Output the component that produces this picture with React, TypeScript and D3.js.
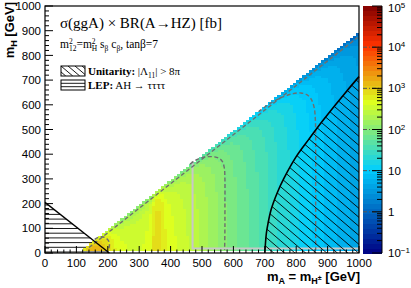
import React from "react";
import * as d3 from "d3";

// mA bins (left edges, 10 GeV wide) and the value at low mH [fb]
const massA = d3.range(120, 1000, 10);
const sigmaLowMH = [
  2500, 2800, 2800, 2600, 2300, 1900, 1500, 1200, 950, 750,
  620, 540, 490, 460, 440, 430, 420, 420, 420, 430,
  450, 520, 750, 880, 850, 700, 560, 480, 440, 410,
  380, 355, 330, 305, 285, 260, 240, 220, 200, 185,
  170, 155, 140, 128, 115, 102, 95, 88, 80, 74,
  68, 63, 58, 53, 49, 45, 41, 38, 35, 32,
  29, 27, 25, 23, 21, 19.5, 18, 16.5, 15.2, 14,
  13, 12, 11.2, 10.4, 9.7, 9.0, 8.4, 7.8, 7.3, 6.8,
  6.4, 6.0, 5.6, 5.3, 5.0, 4.7, 4.4, 4.1,
];
// suppression close to the kinematic edge, by mA - mH (bin edges)
const edgeGap = d3.range(110, 410, 10);
const edgeFactor = [
  0.25, 0.42, 0.52, 0.6, 0.66, 0.71, 0.75, 0.78, 0.81, 0.83,
  0.85, 0.87, 0.88, 0.89, 0.9, 0.91, 0.92, 0.93, 0.94, 0.95,
  0.955, 0.96, 0.965, 0.97, 0.975, 0.98, 0.985, 0.99, 0.995, 1,
];

// contour lines [mA, mH]
const contour1: [number, number][] = [[140, 22], [995, 872]];
const contour1000: [number, number][] = [
  [158, 55], [172, 64], [186, 65], [197, 58], [204, 45], [205, 30], [202, 12],
];
const contour100: [number, number][] = [
  [462, 360], [480, 376], [500, 386], [520, 390], [540, 389], [555, 383],
  [565, 370], [571, 345], [573, 300], [573, 200], [573, 100], [572, 12],
];
const contour10: [number, number][] = [
  [680, 572], [720, 608], [760, 633], [790, 645], [815, 648], [835, 640],
  [848, 622], [857, 590], [861, 540], [862, 450], [862, 300], [862, 150], [862, 12],
];
const greyBoundary: [number, number][] = [[470, 372], [470, 18], [1000, 18]];

const unitarityEdge: [number, number][] = [
  [700, 0], [705, 80], [710, 118], [720, 175], [740, 245], [760, 300],
  [800, 390], [840, 460], [880, 528], [920, 592], [960, 654], [1000, 714],
];
const lepEdge: [number, number][] = [[0, 205], [205, 0]];

const axisTicks = d3.range(0, 1001, 100);
const zExponents = [-1, 0, 1, 2, 3, 4, 5];

// ROOT-like rainbow palette
const palStops = [0, 0.34, 0.61, 0.84, 1];
const palRed = [0, 0, 0.87, 1, 0.51];
const palGreen = [0, 0.81, 1, 0.2, 0];
const palBlue = [0.51, 1, 0.12, 0, 0];
const nLevels = 50;

const x = d3.scaleLinear().domain([0, 1000]).range([45, 359]);
const y = d3.scaleLinear().domain([0, 1000]).range([253, 6]);
const z = d3.scaleLog().domain([0.1, 1e5]).range([0, 1]).clamp(true);
const barY = d3.scaleLog().domain([0.1, 1e5]).range([253, 6]);

const pr = d3.scaleLinear().domain(palStops).range(palRed);
const pg = d3.scaleLinear().domain(palStops).range(palGreen);
const pb = d3.scaleLinear().domain(palStops).range(palBlue);
const paletteColor = (t: number) => {
  const q = Math.min(nLevels - 1, Math.max(0, Math.floor(t * nLevels)));
  const tc = (q + 0.5) / nLevels;
  return d3.rgb(pr(tc) * 255, pg(tc) * 255, pb(tc) * 255).formatHex();
};

const sans = "'Liberation Sans', Arial, sans-serif";
const serif = "'Liberation Serif', 'Times New Roman', serif";

const dataLine = d3
  .line<[number, number]>()
  .x((d) => x(d[0]))
  .y((d) => y(d[1]))
  .curve(d3.curveCatmullRom.alpha(0.5));
const straightLine = d3
  .line<[number, number]>()
  .x((d) => x(d[0]))
  .y((d) => y(d[1]));

export default function App() {
  // heatmap cells
  const cells: { a: number; h: number; v: number }[] = [];
  massA.forEach((a, i) => {
    for (let h = 10; h <= a - 110; h += 10) {
      const k = edgeGap.indexOf(a - h);
      const f = k >= 0 ? edgeFactor[k] : 1;
      cells.push({ a, h, v: sigmaLowMH[i] * f });
    }
  });

  const unitarityPoly =
    unitarityEdge.map((d) => `${x(d[0])},${y(d[1])}`).join(" ") +
    ` ${x(1000)},${y(0)}`;
  const lepPoly = `${x(0)},${y(0)} ${x(lepEdge[0][0])},${y(lepEdge[0][1])} ${x(
    lepEdge[1][0]
  )},${y(lepEdge[1][1])}`;

  // hatch lines
  const uniHatch = d3.range(-40, 40).map((k) => {
    const x0 = x(680);
    const x1 = x(1010);
    const y0 = 60 + k * 9;
    return { x0, y0, x1, y1: y0 + 0.85 * (x1 - x0) };
  });
  const lepHatch = d3.range(0, 12).map((k) => y(0) - 1 - k * 4.7);

  const yMinor = d3.range(0, 1001, 20).filter((v) => v % 100 !== 0);
  const xMinor = d3.range(0, 1001, 20).filter((v) => v % 100 !== 0);
  const zMinor: number[] = [];
  for (let e = -1; e < 5; e++) for (let m = 2; m <= 9; m++) zMinor.push(m * 10 ** e);

  const bands = d3.range(nLevels);

  return (
    <svg
      width={411}
      height={288}
      style={{ position: "absolute", left: 0, top: 0, background: "#fff" }}
    >
      <defs>
        <clipPath id="uniClip">
          <polygon points={unitarityPoly} />
        </clipPath>
        <clipPath id="lepClip">
          <polygon points={lepPoly} />
        </clipPath>
        <clipPath id="legBox1">
          <rect x={61} y={66} width={24} height={10} />
        </clipPath>
      </defs>

      {/* LEP hatch */}
      <g clipPath="url(#lepClip)">
        {lepHatch.map((yy, i) => (
          <line key={i} x1={x(0)} x2={x(210)} y1={yy} y2={yy} stroke="#000" strokeWidth={0.9} />
        ))}
      </g>

      {/* heatmap */}
      <g shapeRendering="crispEdges">
        {cells.map((c, i) => (
          <rect
            key={i}
            x={x(c.a)}
            y={y(c.h + 10)}
            width={x(c.a + 10) - x(c.a) + 0.4}
            height={y(c.h) - y(c.h + 10) + 0.4}
            fill={paletteColor(z(c.v))}
          />
        ))}
      </g>

      {/* contours */}
      <path d={straightLine(greyBoundary) || ""} fill="none" stroke="#c8c8c8" strokeWidth={2} />
      {[contour1, contour1000, contour100, contour10].map((c, i) => (
        <path
          key={i}
          d={dataLine(c) || ""}
          fill="none"
          stroke="#6e6e6e"
          strokeWidth={1.4}
          strokeDasharray="4,2.5"
        />
      ))}

      {/* unitarity hatch */}
      <g clipPath="url(#uniClip)">
        {uniHatch.map((l, i) => (
          <line key={i} x1={l.x0} y1={l.y0} x2={l.x1} y2={l.y1} stroke="#000" strokeWidth={0.9} />
        ))}
      </g>
      <path d={dataLine(unitarityEdge) || ""} fill="none" stroke="#000" strokeWidth={1.6} />
      <path d={straightLine(lepEdge) || ""} fill="none" stroke="#000" strokeWidth={1.3} />

      {/* frame */}
      <rect x={45} y={6} width={314} height={247} fill="none" stroke="#000" strokeWidth={1.2} />

      {/* y axis */}
      {axisTicks.map((v) => (
        <g key={`y${v}`}>
          <line x1={45} x2={53} y1={y(v)} y2={y(v)} stroke="#000" />
          <text
            x={41}
            y={y(v)}
            dy="0.36em"
            textAnchor="end"
            fontSize={11.5}
            fontFamily={sans}
          >
            {v}
          </text>
        </g>
      ))}
      {yMinor.map((v) => (
        <line key={`ym${v}`} x1={45} x2={49} y1={y(v)} y2={y(v)} stroke="#000" />
      ))}

      {/* x axis */}
      {axisTicks.map((v) => (
        <g key={`x${v}`}>
          <line x1={x(v)} x2={x(v)} y1={253} y2={246} stroke="#000" />
          <text x={x(v)} y={267} textAnchor="middle" fontSize={11.5} fontFamily={sans}>
            {v}
          </text>
        </g>
      ))}
      {xMinor.map((v) => (
        <line key={`xm${v}`} x1={x(v)} x2={x(v)} y1={253} y2={249.5} stroke="#000" />
      ))}

      {/* axis titles */}
      <text
        transform="translate(14,2) rotate(-90)"
        textAnchor="end"
        fontSize={13}
        fontWeight="bold"
        fontFamily={sans}
      >
        m<tspan fontSize={9} dy={3}>H</tspan>
        <tspan dy={-3}> [GeV]</tspan>
      </text>
      <text x={360} y={281} textAnchor="end" fontSize={13} fontWeight="bold" fontFamily={sans}>
        m<tspan fontSize={9} dy={3}>A</tspan>
        <tspan dy={-3}> = m</tspan>
        <tspan fontSize={9} dy={3}>H</tspan>
        <tspan fontSize={7} dy={-4}>±</tspan>
        <tspan dy={1}> [GeV]</tspan>
      </text>

      {/* colour bar */}
      <g shapeRendering="crispEdges">
        {bands.map((q) => {
          const lo = 10 ** (-1 + (6 * q) / nLevels);
          const hi = 10 ** (-1 + (6 * (q + 1)) / nLevels);
          return (
            <rect
              key={q}
              x={363}
              y={barY(hi)}
              width={19}
              height={barY(lo) - barY(hi) + 0.5}
              fill={paletteColor((q + 0.5) / nLevels)}
            />
          );
        })}
      </g>
      <line x1={382} x2={382} y1={6} y2={253} stroke="#000" />
      {zExponents.slice(1, -1).map((e) => (
        <line
          key={`zl${e}`}
          x1={363}
          x2={382}
          y1={barY(10 ** e)}
          y2={barY(10 ** e)}
          stroke="#555"
          strokeDasharray="4,2,1,2"
        />
      ))}
      {zExponents.map((e) => (
        <g key={`z${e}`}>
          <line x1={372} x2={382} y1={barY(10 ** e)} y2={barY(10 ** e)} stroke="#000" />
          <text
            x={388}
            y={barY(10 ** e) + (e === 5 ? 2 : 0)}
            dy="0.36em"
            fontSize={11.5}
            fontFamily={sans}
          >
            {e === 0 ? "1" : "10"}
            {e !== 0 && e !== 1 && (
              <tspan fontSize={8} dy={-4}>
                {e < 0 ? "\u2212" + Math.abs(e) : e}
              </tspan>
            )}
          </text>
        </g>
      ))}
      {zMinor.map((v) => (
        <line key={`zm${v}`} x1={377} x2={382} y1={barY(v)} y2={barY(v)} stroke="#000" />
      ))}

      {/* text */}
      <text x={60} y={28} fontSize={15} fontFamily={serif}>
        σ(ggA) × BR(A→HZ) [fb]
      </text>
      <text x={60} y={48} fontSize={11.5} fontFamily={serif}>
        m<tspan fontSize={7.5} dy={-4.5}>2</tspan>
        <tspan fontSize={7.5} dx={-3.8} dy={7}>12</tspan>
        <tspan dy={-2.5}>=m</tspan>
        <tspan fontSize={7.5} dy={-4.5}>2</tspan>
        <tspan fontSize={7.5} dx={-3.8} dy={7}>H</tspan>
        <tspan dy={-2.5}> s</tspan>
        <tspan fontSize={7.5} dy={2.5}>β</tspan>
        <tspan dy={-2.5}> c</tspan>
        <tspan fontSize={7.5} dy={2.5}>β</tspan>
        <tspan dy={-2.5}>, tanβ=7</tspan>
      </text>

      {/* legend */}
      <g clipPath="url(#legBox1)">
        {d3.range(-4, 6).map((k) => (
          <line key={k} x1={61 + k * 7} y1={66} x2={61 + k * 7 + 10 / 0.85} y2={76} stroke="#000" strokeWidth={0.9} />
        ))}
      </g>
      <rect x={61} y={66} width={24} height={10} fill="none" stroke="#000" strokeWidth={1} />
      <rect x={61} y={80} width={24} height={10} fill="none" stroke="#000" strokeWidth={1} />
      {[83.3, 86.7].map((yy) => (
        <line key={yy} x1={61} x2={85} y1={yy} y2={yy} stroke="#000" strokeWidth={0.9} />
      ))}
      <text x={88} y={75} fontSize={11} fontFamily={serif}>
        <tspan fontWeight="bold">Unitarity:</tspan> |Λ<tspan fontSize={7.5} dy={2.5}>11</tspan>
        <tspan dy={-2.5}>| &gt; 8π</tspan>
      </text>
      <text x={88} y={89} fontSize={11} fontFamily={serif}>
        <tspan fontWeight="bold">LEP:</tspan> AH → ττττ
      </text>
    </svg>
  );
}
